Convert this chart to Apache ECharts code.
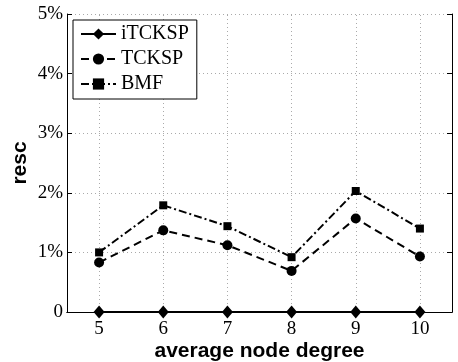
<!DOCTYPE html>
<html><head><meta charset="utf-8">
<script src="https://cdn.jsdelivr.net/npm/echarts@6/dist/echarts.min.js"></script>
<style>html,body{margin:0;padding:0;background:#fff}#c{width:458px;height:362px}</style>
</head><body><div id="c"></div>
<script>
const degrees = [5, 6, 7, 8, 9, 10];
const iTCKSP = [0, 0, 0, 0, 0, 0];
const TCKSP = [0.83, 1.37, 1.12, 0.69, 1.57, 0.93];
const BMF = [1.00, 1.79, 1.44, 0.92, 2.03, 1.40];

const serif = "Liberation Serif";
const sans = "Liberation Sans";
const pair = arr => degrees.map((d, i) => [d, arr[i]]);
const tickRich = {t: {fontFamily: serif, fontSize: 19, color: '#000'}};

const chart = echarts.init(document.getElementById('c'), null, {renderer: 'canvas'});
const xCommon = {
  type: 'value', min: 4.5, max: 10.5,
  nameMoveOverlap: false,
  axisLine: {show: true, lineStyle: {color: '#000', width: 1}},
  axisTick: {show: true, inside: true, length: 5, customValues: degrees, lineStyle: {color: '#000'}},
  minorTick: {show: false}
};
const yCommon = {
  type: 'value', min: 0, max: 5, interval: 1,
  nameMoveOverlap: false,
  axisLine: {show: true, lineStyle: {color: '#000', width: 1}},
  axisTick: {show: true, inside: true, length: 5, lineStyle: {color: '#000'}}
};
const gridLine = {color: '#aaa', type: [1, 3], width: 1};
chart.setOption({
  animation: false,
  backgroundColor: '#fff',
  textStyle: {fontFamily: serif, color: '#000'},
  grid: {left: 67, right: 6, top: 14, bottom: 50, containLabel: false, outerBoundsMode: 'none'},
  legend: {
    orient: 'vertical', left: 73, top: 20,
    backgroundColor: '#fff', borderColor: '#000', borderWidth: 1,
    padding: [4, 8, 5, 7], itemGap: 5, itemWidth: 35, itemHeight: 14, itemTextGap: 5,
    textStyle: {fontFamily: serif, fontSize: 20, color: '#000', lineHeight: 20},
    data: ['iTCKSP', 'TCKSP', 'BMF']
  },
  xAxis: [
    Object.assign({}, xCommon, {
      position: 'bottom',
      name: 'average node degree', nameLocation: 'middle', nameGap: 29,
      nameTextStyle: {fontFamily: sans, fontWeight: 'bold', fontSize: 21, color: '#000'},
      axisLabel: {show: true, customValues: degrees, margin: 8, fontFamily: serif, fontSize: 19, color: '#000',
        formatter: v => '{t|' + v + '}', rich: tickRich},
      splitLine: {show: false}
    }),
    Object.assign({}, xCommon, {
      position: 'top', axisLabel: {show: false}, splitLine: {show: false}
    })
  ],
  yAxis: [
    Object.assign({}, yCommon, {
      position: 'left',
      name: 'resc', nameLocation: 'middle', nameGap: 36,
      nameTextStyle: {fontFamily: sans, fontWeight: 'bold', fontSize: 21, color: '#000'},
      axisLabel: {show: true, margin: 4, fontFamily: serif, fontSize: 19, color: '#000',
        formatter: v => '{t|' + (v === 0 ? '0' : v + '%') + '}', rich: tickRich},
      splitLine: {show: true, lineStyle: gridLine}
    }),
    Object.assign({}, yCommon, {
      position: 'right', axisLabel: {show: false}, splitLine: {show: false}
    })
  ],
  series: [
    {name: 'iTCKSP', type: 'line', data: pair(iTCKSP), clip: false, z: 5,
      symbol: 'diamond', symbolSize: [11, 13],
      lineStyle: {color: '#000', width: 2, type: 'solid'},
      itemStyle: {color: '#000', borderWidth: 0}},
    {name: 'TCKSP', type: 'line', data: pair(TCKSP), clip: false,
      symbol: 'circle', symbolSize: 10,
      lineStyle: {color: '#000', width: 2, type: [8, 5]},
      itemStyle: {color: '#000', borderWidth: 0},
      markLine: {silent: true, symbol: 'none', label: {show: false}, z: 1,
        lineStyle: gridLine, emphasis: {disabled: true},
        data: degrees.map(d => ({xAxis: d}))}},
    {name: 'BMF', type: 'line', data: pair(BMF), clip: false,
      symbol: 'rect', symbolSize: 8,
      lineStyle: {color: '#000', width: 2, type: [8, 3, 2, 3]},
      itemStyle: {color: '#000', borderWidth: 0}}
  ]
});
</script></body></html>
